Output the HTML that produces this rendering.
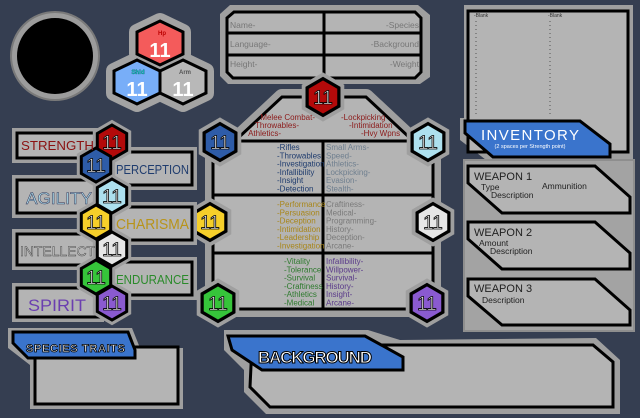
<!DOCTYPE html>
<html><head><meta charset="utf-8"><style>
html,body{margin:0;padding:0;background:#353e51;}
svg{display:block;font-family:"Liberation Sans",sans-serif;}
</style></head><body>
<svg width="640" height="418" viewBox="0 0 640 418" xmlns="http://www.w3.org/2000/svg">
<defs>
<polygon id="h" points="0,-17 14.7,-8.5 14.7,8.5 0,17 -14.7,8.5 -14.7,-8.5"/>
<polygon id="H" points="0,-22 23,-11 23,11 0,22 -23,11 -23,-11"/>
</defs>
<rect width="640" height="418" fill="#353e51"/>

<!-- portrait -->
<circle cx="55" cy="56" r="44" fill="#9c9c9c" stroke="#7a7a7a" stroke-width="2"/>
<circle cx="55" cy="56" r="38" fill="#000"/>

<!-- triple hex -->
<g stroke="#a3a3a3" stroke-width="16" stroke-linejoin="round" fill="#a3a3a3">
<use href="#H" x="160" y="43"/><use href="#H" x="137" y="82"/><use href="#H" x="183" y="82"/>
</g>
<g stroke="#000" stroke-width="3">
<use href="#H" x="160" y="43" fill="#f45b5b"/>
<use href="#H" x="137" y="82" fill="#78aef8"/>
<use href="#H" x="183" y="82" fill="#b8b8b8"/>
</g>
<g font-weight="bold" text-anchor="middle" fill="#fff">
<text x="160" y="57" font-size="20">11</text>
<text x="137" y="96" font-size="20">11</text>
<text x="183" y="96" font-size="20">11</text>
<text x="162" y="35" font-size="6" fill="#b00">Hp</text>
<text x="138" y="74" font-size="6" fill="#2ee" stroke="#044" stroke-width="0.3">Shld</text>
<text x="185" y="74" font-size="6" fill="#555">Arm</text>
</g>

<!-- info box -->
<polygon points="230,5 418,5 430,15 430,77 420,84 228,84 220,76 220,14" fill="#9f9f9f"/>
<polygon points="234,12 415,12 421,18 421,72 415,78 233,78 227,72 227,18" fill="#b4b4b4" stroke="#000" stroke-width="3"/>
<line x1="227" y1="33" x2="421" y2="33" stroke="#000" stroke-width="3"/>
<line x1="227" y1="55" x2="421" y2="55" stroke="#000" stroke-width="3"/>
<line x1="324" y1="12" x2="324" y2="78" stroke="#000" stroke-width="3"/>
<g font-size="8.5" fill="#777">
<text x="230" y="28">Name-</text><text x="230" y="47">Language-</text><text x="230" y="67">Height-</text>
<text x="419" y="28" text-anchor="end">-Species</text><text x="419" y="47" text-anchor="end">-Background</text><text x="419" y="67" text-anchor="end">-Weight</text>
</g>

<!-- main skill box -->
<polygon points="282,97 366,97 411,139 433,139 433,309 213,309 213,139 237,139" fill="#9f9f9f" stroke="#9f9f9f" stroke-width="16" stroke-linejoin="round"/>
<polygon points="282,97 366,97 411,139 433,139 433,309 213,309 213,139 237,139" fill="#b4b4b4" stroke="#000" stroke-width="3"/>
<g stroke="#000" stroke-width="3">
<line x1="213" y1="141" x2="433" y2="141"/><line x1="213" y1="195" x2="433" y2="195"/><line x1="213" y1="253" x2="433" y2="253"/>
<line x1="323" y1="141" x2="323" y2="309"/>
</g>
<g font-size="8">
<g fill="#8b1a1a"><text x="315" y="120" text-anchor="end">Melee Combat-</text><text x="299" y="128" text-anchor="end">Throwables-</text><text x="281" y="136" text-anchor="end">Athletics-</text>
<text x="341" y="120">-Lockpicking</text><text x="349" y="128">-Intimidation</text><text x="361" y="136">-Hvy Wpns</text></g>
<g fill="#1f3c6e"><text x="277" y="150">-Rifles</text><text x="277" y="158.3">-Throwables</text><text x="277" y="166.6">-Investigation</text><text x="277" y="174.9">-Infallibility</text><text x="277" y="183.2">-Insight</text><text x="277" y="191.5">-Detection</text></g>
<g fill="#6f7f8f"><text x="326" y="150">Small Arms-</text><text x="326" y="158.3">Speed-</text><text x="326" y="166.6">Athletics-</text><text x="326" y="174.9">Lockpicking-</text><text x="326" y="183.2">Evasion-</text><text x="326" y="191.5">Stealth-</text></g>
<g fill="#a8861a"><text x="277" y="207">-Performance</text><text x="277" y="215.3">-Persuasion</text><text x="277" y="223.6">-Deception</text><text x="277" y="231.9">-Intimidation</text><text x="277" y="240.2">-Leadership</text><text x="277" y="248.5">-Investigation</text></g>
<g fill="#7a7a7a"><text x="326" y="207">Craftiness-</text><text x="326" y="215.3">Medical-</text><text x="326" y="223.6">Programming-</text><text x="326" y="231.9">History-</text><text x="326" y="240.2">Deception-</text><text x="326" y="248.5">Arcane-</text></g>
<g fill="#2e7a2e"><text x="284" y="264">-Vitality</text><text x="284" y="272.3">-Tolerance</text><text x="284" y="280.6">-Survival</text><text x="284" y="288.9">-Craftiness</text><text x="284" y="297.2">-Athletics</text><text x="284" y="305.5">-Medical</text></g>
<g fill="#5a3a8a"><text x="326" y="264">Infallibility-</text><text x="326" y="272.3">Willpower-</text><text x="326" y="280.6">Survival-</text><text x="326" y="288.9">History-</text><text x="326" y="297.2">Insight-</text><text x="326" y="305.5">Arcane-</text></g>
</g>

<!-- main box hexes -->
<g stroke="#000" stroke-width="3">
<g stroke="#9f9f9f" stroke-width="10" fill="#9f9f9f">
<use href="#h" transform="translate(323,97) scale(1.08)"/>
<use href="#h" transform="translate(220,142) scale(1.08)"/><use href="#h" transform="translate(428,142) scale(1.08)"/>
<use href="#h" transform="translate(210,222) scale(1.08)"/><use href="#h" transform="translate(433,222) scale(1.08)"/>
<use href="#h" transform="translate(218,303) scale(1.08)"/><use href="#h" transform="translate(427,303) scale(1.08)"/>
</g>
<use href="#h" transform="translate(323,97) scale(1.08)" fill="#b30a0a"/>
<use href="#h" transform="translate(220,142) scale(1.08)" fill="#2e5ca8"/><use href="#h" transform="translate(428,142) scale(1.08)" fill="#ade0ee"/>
<use href="#h" transform="translate(210,222) scale(1.08)" fill="#f6cf2a"/><use href="#h" transform="translate(433,222) scale(1.08)" fill="#e6e6e6"/>
<use href="#h" transform="translate(218,303) scale(1.08)" fill="#36c43a"/><use href="#h" transform="translate(427,303) scale(1.08)" fill="#8a5ad0"/>
</g>
<g font-size="19" text-anchor="middle" fill="#fff" stroke="#000" stroke-width="0.8">
<text x="323" y="104">11</text><text x="220" y="149">11</text><text x="428" y="149">11</text>
<text x="210" y="229">11</text><text x="433" y="229">11</text><text x="218" y="310">11</text><text x="427" y="310">11</text>
</g>

<!-- left stat bars -->
<g fill="#9f9f9f">
<rect x="12" y="128" width="92" height="35"/><rect x="80" y="147" width="117" height="43"/>
<rect x="12" y="175" width="92" height="43"/><rect x="80" y="202" width="117" height="43"/>
<rect x="12" y="229" width="92" height="41"/><rect x="80" y="257" width="117" height="43"/>
<rect x="12" y="283" width="92" height="39"/>
</g>
<g fill="#b4b4b4" stroke="#000" stroke-width="3">
<rect x="17" y="133" width="85" height="25"/>
<rect x="100" y="152" width="92" height="33"/>
<rect x="17" y="180" width="85" height="33"/>
<rect x="100" y="207" width="92" height="33"/>
<rect x="17" y="234" width="85" height="31"/>
<rect x="100" y="262" width="92" height="33"/>
<rect x="17" y="288" width="85" height="29"/>
</g>
<g stroke="#000" stroke-width="3">
<g stroke="#9f9f9f" stroke-width="9" fill="#9f9f9f">
<use href="#h" x="112" y="142"/><use href="#h" x="96" y="165"/><use href="#h" x="112" y="196"/><use href="#h" x="96" y="222"/><use href="#h" x="112" y="249"/><use href="#h" x="96" y="277"/><use href="#h" x="112" y="303"/>
</g>
<use href="#h" x="112" y="142" fill="#b30a0a"/><use href="#h" x="96" y="165" fill="#2e5ca8"/><use href="#h" x="112" y="196" fill="#ade0ee"/><use href="#h" x="96" y="222" fill="#f6cf2a"/><use href="#h" x="112" y="249" fill="#e6e6e6"/><use href="#h" x="96" y="277" fill="#36c43a"/><use href="#h" x="112" y="303" fill="#8a5ad0"/>
</g>
<g font-size="19" text-anchor="middle" fill="#fff" stroke="#000" stroke-width="0.8">
<text x="112" y="149">11</text><text x="96" y="172">11</text><text x="112" y="203">11</text><text x="96" y="229">11</text><text x="112" y="256">11</text><text x="96" y="284">11</text><text x="112" y="310">11</text>
</g>
<g font-size="13" lengthAdjust="spacingAndGlyphs">
<text x="21" y="150" fill="#8b1212" textLength="73" lengthAdjust="spacingAndGlyphs">STRENGTH</text>
<text x="116" y="174" fill="#1f3c6e" textLength="73" lengthAdjust="spacingAndGlyphs">PERCEPTION</text>
<text x="26" y="204" fill="#a8d8e6" stroke="#335" stroke-width="0.5" font-size="17" textLength="66" lengthAdjust="spacingAndGlyphs">AGILITY</text>
<text x="116" y="229" fill="#b8941a" font-size="15" textLength="73" lengthAdjust="spacingAndGlyphs">CHARISMA</text>
<text x="20" y="256" fill="#d4d4d4" stroke="#444" stroke-width="0.5" font-size="14" textLength="75" lengthAdjust="spacingAndGlyphs">INTELLECT</text>
<text x="116" y="284" fill="#2a8a2a" textLength="73" lengthAdjust="spacingAndGlyphs">ENDURANCE</text>
<text x="28" y="311" fill="#6b3fb0" font-size="17" textLength="58" lengthAdjust="spacingAndGlyphs">SPIRIT</text>
</g>

<!-- species traits -->
<polygon points="8,328 132,328 140,348 183,348 183,409 30,409 30,365 8,348" fill="#9f9f9f"/>
<rect x="35" y="347" width="143" height="57" fill="#b4b4b4" stroke="#000" stroke-width="3"/>
<polygon points="13,332 128,332 135,350 135,358 28,358 13,343" fill="#3a74cc" stroke="#000" stroke-width="3"/>
<text x="26" y="352" font-size="11" font-weight="bold" fill="#fff" stroke="#000" stroke-width="0.8" textLength="99">SPECIES TRAITS</text>

<!-- background -->
<polygon points="224,330 368,330 400,340 596,338 620,360 620,414 266,414 244,392 244,370 224,350" fill="#9f9f9f"/>
<polygon points="252,345 593,345 613,362 613,407 270,407 250,387" fill="#b4b4b4" stroke="#000" stroke-width="3"/>
<polygon points="228,336 365,336 403,357 403,370 262,370 232,350" fill="#3a74cc" stroke="#000" stroke-width="3"/>
<text x="258" y="363" font-size="17" font-weight="bold" fill="#fff" stroke="#000" stroke-width="1" textLength="114">BACKGROUND</text>

<!-- inventory -->
<polygon points="464,5 633,5 633,160 612,160 612,163 490,163 460,140 460,118 464,118" fill="#9f9f9f"/>
<rect x="468" y="11" width="160" height="141" fill="#b4b4b4" stroke="#000" stroke-width="3"/>
<g font-size="5" fill="#333">
<text x="474" y="17">-Blank</text><text x="548" y="17">-Blank</text>
<g font-size="6">
<text x="475" y="23">-</text><text x="549" y="23">-</text><text x="475" y="27">-</text><text x="549" y="27">-</text><text x="475" y="31">-</text><text x="549" y="31">-</text><text x="475" y="35">-</text><text x="549" y="35">-</text><text x="475" y="39">-</text><text x="549" y="39">-</text><text x="475" y="43">-</text><text x="549" y="43">-</text><text x="475" y="47">-</text><text x="549" y="47">-</text><text x="475" y="51">-</text><text x="549" y="51">-</text><text x="475" y="55">-</text><text x="549" y="55">-</text><text x="475" y="59">-</text><text x="549" y="59">-</text><text x="475" y="63">-</text><text x="549" y="63">-</text><text x="475" y="67">-</text><text x="549" y="67">-</text><text x="475" y="71">-</text><text x="549" y="71">-</text><text x="475" y="75">-</text><text x="549" y="75">-</text><text x="475" y="79">-</text><text x="549" y="79">-</text><text x="475" y="83">-</text><text x="549" y="83">-</text><text x="475" y="87">-</text><text x="549" y="87">-</text><text x="475" y="91">-</text><text x="549" y="91">-</text><text x="475" y="95">-</text><text x="549" y="95">-</text><text x="475" y="99">-</text><text x="549" y="99">-</text><text x="475" y="103">-</text><text x="549" y="103">-</text><text x="475" y="107">-</text><text x="549" y="107">-</text><text x="475" y="111">-</text><text x="549" y="111">-</text><text x="475" y="115">-</text><text x="549" y="115">-</text>
</g></g>
<polygon points="465,121 580,121 610,144 610,157 493,157 465,133" fill="#3a74cc" stroke="#000" stroke-width="3"/>
<text x="530" y="140" font-size="15" fill="#fff" text-anchor="middle" textLength="98">INVENTORY</text>
<text x="530" y="148" font-size="5.5" fill="#fff" text-anchor="middle">(2 spaces per Strength point)</text>

<!-- weapons -->
<rect x="464" y="160" width="170" height="171" fill="#a3a3a3" stroke="#8e8e8e" stroke-width="2"/>
<g fill="#b4b4b4" stroke="#000" stroke-width="3">
<polygon points="468,166 595,166 630,197 630,213 502,213 468,183"/>
<polygon points="468,222 595,222 630,253 630,269 502,269 468,239"/>
<polygon points="468,279 595,279 630,310 630,325 502,325 468,296"/>
</g>
<g fill="#222">
<text x="474" y="180" font-size="11">WEAPON 1</text>
<text x="481" y="190" font-size="8.5">Type</text><text x="542" y="189" font-size="8.5">Ammunition</text><text x="491" y="198" font-size="8.5">Description</text>
<text x="474" y="236" font-size="11">WEAPON 2</text>
<text x="479" y="246" font-size="8.5">Amount</text><text x="490" y="254" font-size="8.5">Description</text>
<text x="474" y="292" font-size="11">WEAPON 3</text>
<text x="482" y="303" font-size="8.5">Description</text>
</g>
</svg>
</body></html>
